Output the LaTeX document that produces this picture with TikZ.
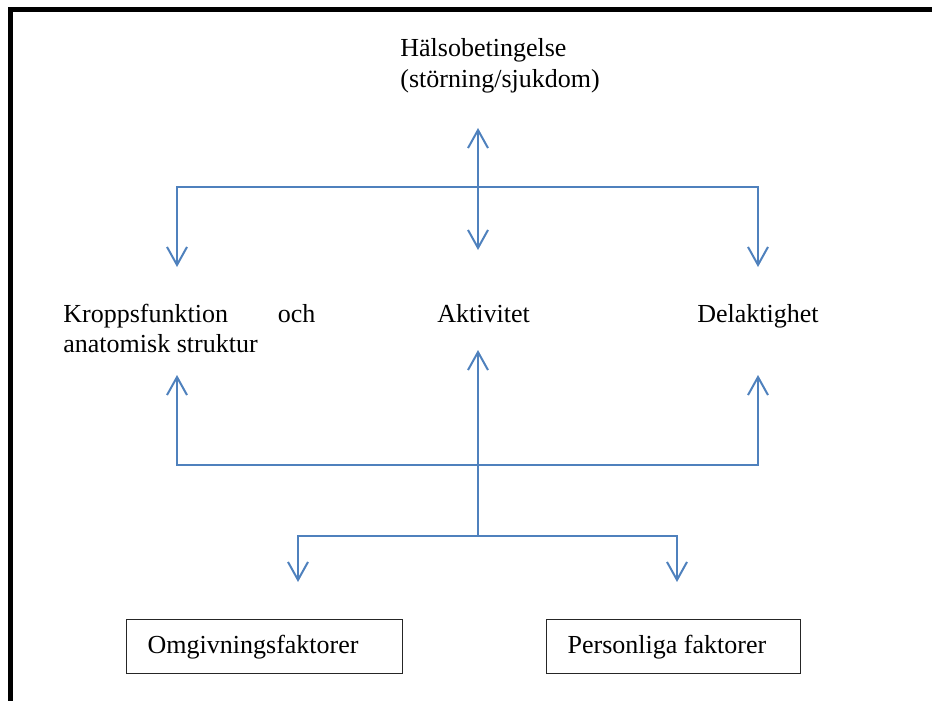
\documentclass[tikz,border=0pt]{standalone}
\usepackage{fontspec}
\setmainfont{Liberation Serif}
\usetikzlibrary{arrows.meta, positioning}
\usepackage{xcolor}
\definecolor{linkblue}{HTML}{4F81BD}
\hyphenpenalty=10000
\exhyphenpenalty=10000

\begin{document}
\begin{tikzpicture}[
    x=0.5pt, y=-0.5pt,
    txt/.style={inner sep=0pt, anchor=base west,
                font=\fontsize{13}{15.4}\selectfont},
    factor/.style={rectangle, draw=black!85, line width=0.7pt,
                   anchor=north west, inner xsep=10.5pt, inner ysep=0pt,
                   minimum height=27pt, align=flush left,
                   font=\fontsize{13}{15.4}\selectfont},
    arr/.style={-{Straight Barb[length=9pt, width=10pt]}, line width=1pt,
                color=linkblue},
    biarr/.style={{Straight Barb[length=9pt, width=10pt]}-{Straight Barb[length=9pt, width=10pt]},
                  line width=1pt, color=linkblue},
  ]
    \useasboundingbox (0,0) rectangle (932,701);

    % frame (left and top edge only)
    \draw[line width=2.5pt, line join=miter] (10,701) -- (10,9.5) -- (932,9.5);

    \node[txt, text width=120pt, align=flush left] (halso) at (400,57)
      {Hälsobetingelse\\(störning/sjukdom)};
    \node[txt, text width=126pt, align=justify] (kropp) at (63,322)
      {Kroppsfunktion och anatomisk struktur};
    \node[txt] (aktiv) at (437,322) {Aktivitet};
    \node[txt] (delak) at (697,322) {Delaktighet};

    \node[factor, text width=117pt] (omg)  at (126,619) {Omgivningsfaktorer};
    \node[factor, text width=106pt] (pers) at (546,619) {Personliga faktorer};

    % junctions and arrow ends
    \coordinate (hubtop) at (478,187);
    \coordinate (hublow) at (478,465);
    \coordinate (hubfac) at (478,536);
    \coordinate (halsoin) at (478,128);
    \coordinate (aktivtop) at (478,250);
    \coordinate (aktivbot) at (478,350);
    \coordinate (kropptop) at (177,267);
    \coordinate (kroppbot) at (177,375);
    \coordinate (delaktop) at (758,267);
    \coordinate (delakbot) at (758,375);
    \coordinate (omgin) at (298,582);
    \coordinate (persin) at (677,582);

    \draw[biarr] (halsoin) -- (aktivtop);
    \foreach \t in {kropptop, delaktop}
      \draw[arr] (hubtop) -| (\t);
    \foreach \t in {kroppbot, delakbot}
      \draw[arr] (hublow) -| (\t);
    \draw[arr] (hubfac) -- (aktivbot);
    \foreach \t in {omgin, persin}
      \draw[arr] (hubfac) -| (\t);
  \end{tikzpicture}
\end{document}
